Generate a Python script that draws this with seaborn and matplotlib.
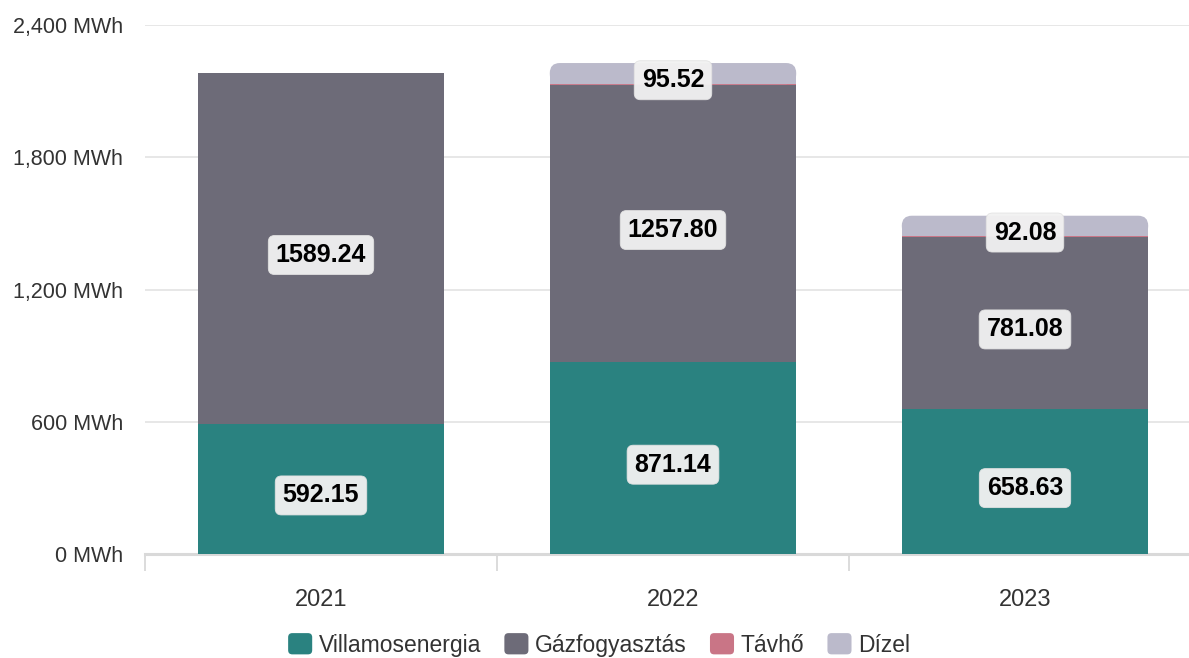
import matplotlib
matplotlib.use("Agg")
import matplotlib.pyplot as plt
import seaborn as sns
import pandas as pd
import numpy as np
from matplotlib.patches import FancyBboxPatch, Rectangle, Patch
from matplotlib.legend_handler import HandlerPatch
from matplotlib.ticker import FuncFormatter, FixedLocator

years = ["2021", "2022", "2023"]
villamos = [592.15, 871.14, 658.63]
gaz = [1589.24, 1257.80, 781.08]
tavho = [0.0, 3.0, 3.0]
dizel = [0.0, 95.52, 92.08]

series_names = ["Villamosenergia", "Gázfogyasztás", "Távhő", "Dízel"]
series_vals = [villamos, gaz, tavho, dizel]
colors = ["#2a8280", "#6d6b78", "#c97586", "#bbbacb"]
show_labels = [True, True, False, True]

sns.set_theme(style="white")
plt.rcParams["font.family"] = ["Liberation Sans", "DejaVu Sans"]

fig = plt.figure(figsize=(11.89, 6.58), dpi=100)
# axes slightly wider than the figure so each category spans ~352 px
ax = fig.add_axes([145 / 1189, 0.158, 3 * 352 / 1189, 0.804])

bottom = np.zeros(len(years))
for name, vals, col in zip(series_names, series_vals, colors):
    df = pd.DataFrame({"year": years, "value": vals})
    sns.barplot(data=df, x="year", y="value", order=years, color=col,
                bottom=bottom, width=0.70, linewidth=0, ax=ax,
                saturation=1, zorder=2)
    bottom = bottom + np.array(vals)

if ax.legend_ is not None:
    ax.legend_.remove()

ax.set_ylim(0, 2400)
ax.set_xlim(-0.5, 2.5)

# round the top corners of the Dízel segments
fig.canvas.draw()
dizel_bars = ax.containers[-1]
px_per_x = ax.bbox.width / (ax.get_xlim()[1] - ax.get_xlim()[0])
px_per_y = ax.bbox.height / (ax.get_ylim()[1] - ax.get_ylim()[0])
r_px = 10
rx = r_px / px_per_x
ry = r_px / px_per_y
for p in dizel_bars.patches:
    h = p.get_height()
    if h <= 0:
        continue
    x, y, w = p.get_x(), p.get_y(), p.get_width()
    p.set_visible(False)
    fb = FancyBboxPatch((x, y), w, h,
                        boxstyle=f"round,pad=0,rounding_size={rx}",
                        mutation_aspect=ry / rx,
                        facecolor=colors[3], edgecolor="none", zorder=2)
    ax.add_patch(fb)
    ax.add_patch(Rectangle((x, y), w, h - ry if h > ry else h / 2,
                           facecolor=colors[3], edgecolor="none", zorder=2))

# value labels
base = np.zeros(len(years))
for vals, show in zip(series_vals, show_labels):
    for i, v in enumerate(vals):
        if show and v > 0:
            ax.annotate(f"{v:.2f}", xy=(i, base[i] + v / 2),
                        xytext=(0, -4.8), textcoords="offset points",
                        ha="center", va="center",
                        fontsize=18, fontweight="bold", color="#000000",
                        zorder=5,
                        bbox=dict(boxstyle="round,pad=0.3,rounding_size=0.25",
                                  facecolor="#f2f2f2", edgecolor="#e2e2e2",
                                  linewidth=0.6, alpha=0.95))
    base = base + np.array(vals)

# axes styling
ax.set_xlabel("")
ax.set_ylabel("")
ax.yaxis.set_major_locator(FixedLocator([0, 600, 1200, 1800, 2400]))
ax.yaxis.set_major_formatter(FuncFormatter(lambda v, _: f"{int(v):,} MWh"))
ax.grid(axis="y", color="#e3e3e3", linewidth=1.2, zorder=0)
ax.grid(axis="x", visible=False)
ax.set_axisbelow(True)
for s in ["top", "right", "left"]:
    ax.spines[s].set_visible(False)
ax.spines["bottom"].set_color("#d9d9d9")
ax.spines["bottom"].set_linewidth(2.2)
ax.spines["bottom"].set_zorder(1)

ax.tick_params(axis="y", length=0, pad=16, labelsize=15.5, labelcolor="#333333")
ax.tick_params(axis="x", which="major", length=0, pad=25, labelsize=17,
               labelcolor="#333333")
ax.set_xticks([-0.5, 0.5, 1.5, 2.5], minor=True)
ax.tick_params(axis="x", which="minor", bottom=True, length=12, width=1.2,
               color="#d6d6d6", direction="out")


class RoundHandler(HandlerPatch):
    def create_artists(self, legend, orig_handle, xdescent, ydescent,
                       width, height, fontsize, trans):
        p = FancyBboxPatch((-xdescent, -ydescent), width, height,
                           boxstyle="round,pad=0,rounding_size=3",
                           facecolor=orig_handle.get_facecolor(),
                           edgecolor="none", transform=trans)
        return [p]


handles = [Patch(facecolor=c, edgecolor="none") for c in colors]
fig.legend(handles, series_names, loc="center", bbox_to_anchor=(0.504, 0.02),
           ncol=4, frameon=False, fontsize=16.5, handlelength=1.05,
           handleheight=1.05, handletextpad=0.3, columnspacing=1.0,
           labelcolor="#333333",
           handler_map={Patch: RoundHandler()})

fig.savefig("out.png", dpi=100)
